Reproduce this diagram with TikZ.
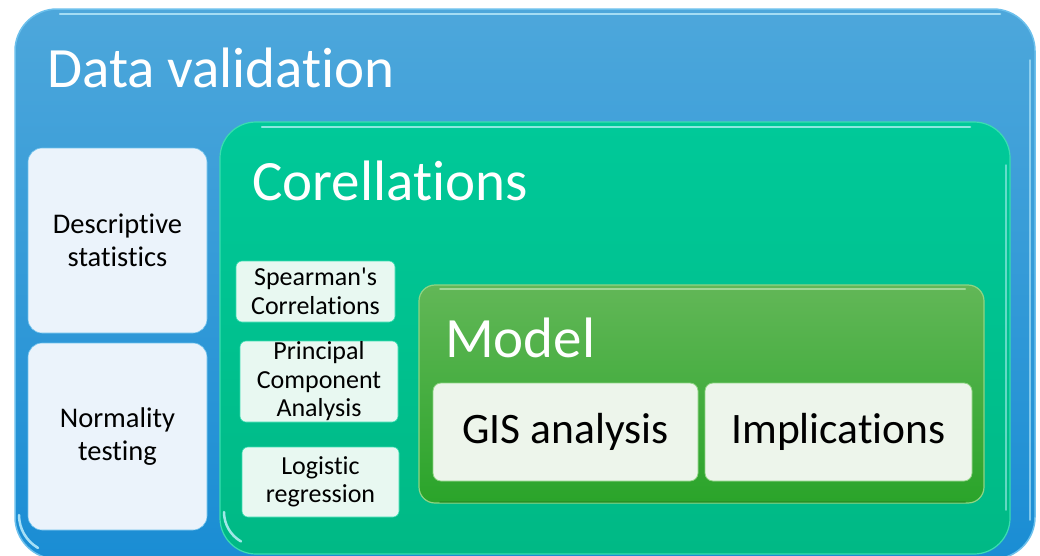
\documentclass[tikz,border=0pt]{standalone}
\usepackage{fontspec}
\newfontfamily\calib{Carlito}[Ligatures=NoCommon]
\definecolor{blueTop}{HTML}{4DA7DB}
\definecolor{blueBot}{HTML}{1A8DD4}
\definecolor{blueEdge}{HTML}{6CC0EC}
\definecolor{greenTop}{HTML}{00C999}
\definecolor{greenBot}{HTML}{00B985}
\definecolor{greenEdge}{HTML}{3ADDB0}
\definecolor{modelTop}{HTML}{62B757}
\definecolor{modelBot}{HTML}{2AA42A}
\definecolor{modelEdge}{HTML}{8FD483}
\definecolor{paleBlue}{HTML}{EBF3FB}
\definecolor{paleGreen}{HTML}{E8F8F1}
\definecolor{paleLeaf}{HTML}{EDF5EB}
\definecolor{glint}{HTML}{C9F4FF}
\begin{document}
\begin{tikzpicture}[x=1pt,y=-1pt,
  panel/.style={rounded corners=#1, anchor=north west, inner sep=0pt, outer sep=0pt},
  item/.style={rounded corners=8pt, anchor=center, inner sep=0pt, outer sep=0pt,
    align=center, text=black},
  heading/.style={anchor=base west, inner sep=0pt, text=white,
    font=\calib\fontsize{57}{61}\selectfont},
  itemfont/.style={font=\calib\fontsize{28.5}{33}\selectfont},
  smallfont/.style={font=\calib\fontsize{26}{28.5}\selectfont},
  bigfont/.style={font=\calib\fontsize{43.5}{48}\selectfont}]
\useasboundingbox (0,0) rectangle (1040,555);
\clip (0,0) rectangle (1040,555);
\fill[white] (0,0) rectangle (1040,555);

% outer container
\node[panel=42pt, minimum width=1020pt, minimum height=550pt,
  top color=blueTop, bottom color=blueBot, draw=blueEdge, line width=1.5pt]
  (dv) at (15,9) {};
\draw[glint, line width=2.5pt, line cap=round, opacity=0.7]
  (60,14) -- (1000,14);
\draw[glint, line width=1.5pt, line cap=round, opacity=0.55]
  (1030,60) -- (1030,520);
\draw[glint, line width=2.5pt, line cap=round, opacity=0.8]
  (19,515) arc[start angle=180, end angle=240, radius=38pt];
\node[heading] (dvt) at (47,87) {Data validation};

% left column
\node[item, fill=paleBlue, draw=blueEdge, line width=0.6pt,
  minimum width=179pt, minimum height=185pt, rounded corners=14pt, itemfont]
  (desc) at (117.5,240.5) {Descriptive\\statistics};
\node[item, fill=paleBlue, draw=blueEdge, line width=0.6pt,
  minimum width=179pt, minimum height=187pt, rounded corners=14pt, itemfont]
  (norm) at (117.5,436.5) {Normality\\testing};

% correlations container
\node[panel=36pt, minimum width=790pt, minimum height=432pt,
  top color=greenTop, bottom color=greenBot, draw=greenEdge, line width=1.2pt]
  (cor) at (220,122) {};
\draw[glint, line width=2.5pt, line cap=round, opacity=0.7]
  (262,127) -- (970,127);
\draw[glint, line width=1.5pt, line cap=round, opacity=0.5]
  (1006,165) -- (1006,510);
\draw[glint, line width=2.5pt, line cap=round, opacity=0.8]
  (224,512) arc[start angle=180, end angle=240, radius=34pt];
\node[heading] (cort) at (252,200) {Corellations};

\node[item, fill=paleGreen, draw=greenEdge, line width=0.6pt,
  minimum width=159pt, minimum height=61pt, rounded corners=6pt, smallfont]
  (spear) at (315.5,291.5) {Spearman's\\Correlations};
\node[item, fill=paleGreen, draw=greenEdge, line width=0.6pt,
  minimum width=158pt, minimum height=81pt, rounded corners=6pt, smallfont]
  (pca) at (319,381.5) {Principal\\Component\\Analysis};
\node[item, fill=paleGreen, draw=greenEdge, line width=0.6pt,
  minimum width=157pt, minimum height=70pt, rounded corners=6pt, smallfont]
  (logit) at (320.5,482) {Logistic\\regression};

% model container
\node[panel=16pt, minimum width=565pt, minimum height=218pt,
  top color=modelTop, bottom color=modelBot, draw=modelEdge, line width=1.2pt]
  (model) at (419,285) {};
\draw[modelBot!80!black, line width=2pt, line cap=round, opacity=0.5]
  (440,502) -- (965,502);
\draw[modelEdge!60!white, line width=2pt, line cap=round, opacity=0.7]
  (440,289) -- (965,289);
\node[heading] (modelt) at (445,357) {Model};

\node[item, fill=paleLeaf, draw=modelEdge, line width=0.8pt,
  minimum width=265pt, minimum height=98pt, rounded corners=8pt, bigfont]
  (gis) at (565.5,432) {GIS analysis};
\node[item, fill=paleLeaf, draw=modelEdge, line width=0.8pt,
  minimum width=267pt, minimum height=98pt, rounded corners=8pt, bigfont]
  (impl) at (838.5,432) {Implications};
\end{tikzpicture}
\end{document}
